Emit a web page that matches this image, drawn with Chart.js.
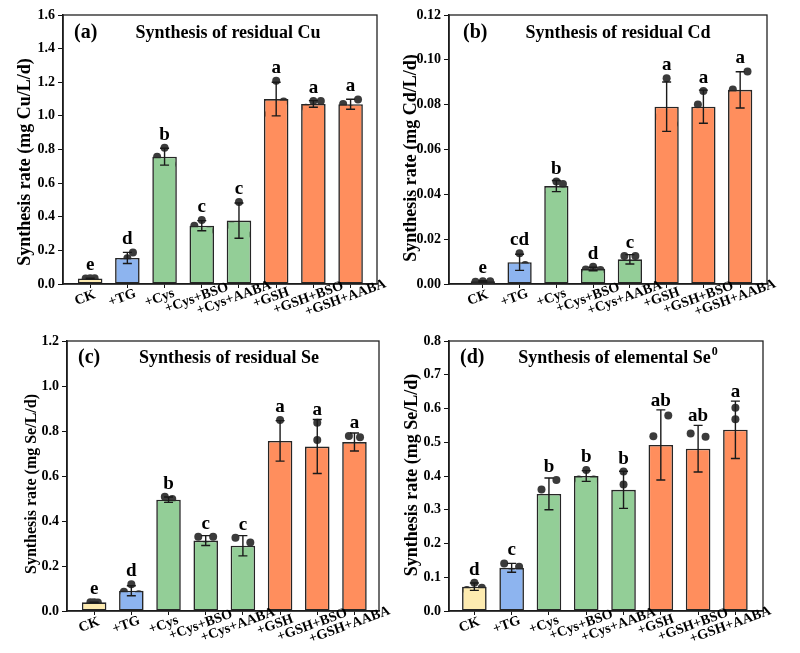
<!DOCTYPE html>
<html>
<head>
<meta charset="utf-8">
<script src="https://cdn.jsdelivr.net/npm/chart.js@4.4.1/dist/chart.umd.min.js"></script>
<style>
  body { margin: 0; background: #fff; }
  #wrap { position: relative; width: 800px; height: 653px; }
  canvas { position: absolute; }
</style>
</head>
<body>
<div id="wrap">
  <canvas id="chartA" width="400" height="326" style="left:0;top:0"></canvas>
  <canvas id="chartB" width="400" height="326" style="left:400px;top:0"></canvas>
  <canvas id="chartC" width="400" height="326" style="left:0;top:327px"></canvas>
  <canvas id="chartD" width="400" height="326" style="left:400px;top:327px"></canvas>
</div>
<script>
const categories = ['CK', '+TG', '+Cys', '+Cys+BSO', '+Cys+AABA', '+GSH', '+GSH+BSO', '+GSH+AABA'];
const barColors = ['#FDEBB0', '#8DB4EF', '#93CE97', '#93CE97', '#93CE97', '#FF8E5D', '#FF8E5D', '#FF8E5D'];

// (a) residual Cu
const cuMean = [0.033, 0.155, 0.757, 0.347, 0.377, 1.100, 1.071, 1.069];
const cuSd = [0.002, 0.033, 0.050, 0.030, 0.105, 0.100, 0.020, 0.030];
const cuReps = [[0.032, 0.034, 0.034], [0.123, 0.153, 0.188], [0.757, 0.811, 0.712], [0.347, 0.381, 0.317],
  [0.347, 0.488, 0.295], [1.011, 1.209, 1.085], [1.049, 1.088, 1.088], [1.071, 1.041, 1.098]];
const cuLetters = ['e', 'd', 'b', 'c', 'c', 'a', 'a', 'a'];

// (b) residual Cd
const cdMean = [0.0012, 0.0097, 0.0437, 0.0067, 0.0110, 0.0791, 0.0791, 0.0866];
const cdSd = [0.0003, 0.0036, 0.0025, 0.0008, 0.0021, 0.0110, 0.0074, 0.0081];
const cdReps = [[0.001, 0.0012, 0.0012], [0.0065, 0.0137, 0.0085], [0.0409, 0.0457, 0.0446], [0.0065, 0.0077, 0.0062],
  [0.0125, 0.0088, 0.0125], [0.0746, 0.0918, 0.0714], [0.0801, 0.0861, 0.0714], [0.0868, 0.0784, 0.0948]];
const cdLetters = ['e', 'cd', 'b', 'd', 'c', 'a', 'a', 'a'];

// (c) residual Se
const seMean = [0.0385, 0.090, 0.495, 0.313, 0.290, 0.756, 0.731, 0.751];
const seSd = [0.001, 0.022, 0.012, 0.022, 0.045, 0.090, 0.120, 0.040];
const seReps = [[0.0385, 0.0385, 0.038], [0.086, 0.119, 0.074], [0.508, 0.479, 0.498], [0.330, 0.290, 0.330],
  [0.326, 0.240, 0.305], [0.849, 0.730, 0.681], [0.837, 0.760, 0.597], [0.778, 0.704, 0.772]];
const seLetters = ['e', 'd', 'b', 'c', 'c', 'a', 'a', 'a'];

// (d) elemental Se0
const se0Mean = [0.072, 0.128, 0.347, 0.400, 0.359, 0.492, 0.481, 0.537];
const se0Sd = [0.011, 0.013, 0.047, 0.016, 0.055, 0.104, 0.069, 0.085];
const se0Reps = [[0.062, 0.084, 0.069], [0.141, 0.115, 0.131], [0.360, 0.294, 0.388], [0.390, 0.418, 0.390],
  [0.413, 0.375, 0.289], [0.518, 0.378, 0.579], [0.526, 0.401, 0.516], [0.602, 0.568, 0.442]];
const se0Letters = ['d', 'c', 'b', 'b', 'b', 'ab', 'ab', 'a'];

const SERIF = '"Liberation Serif", "Times New Roman", serif';

const panels = [
  { id: 'chartA', tag: '(a)', title: 'Synthesis of residual Cu', yTitle: 'Synthesis rate (mg Cu/L/d)',
    mean: cuMean, sd: cuSd, reps: cuReps, letters: cuLetters,
    yMax: 1.6, yStep: 0.2, dec: 1, xMin: -0.73, xMax: 7.71,
    area: { l: 63, r: 377, t: 15, b: 284 }, yt: [25, 162, 18], titleCx: 228, tagX: 74, titleY: 33,
    spread: [0.12, 0.15, 0.2, 0.2, 0.2, 0.2, 0.2, 0.2] },
  { id: 'chartB', tag: '(b)', title: 'Synthesis of residual Cd', yTitle: 'Synthesis rate (mg Cd/L/d)',
    mean: cdMean, sd: cdSd, reps: cdReps, letters: cdLetters,
    yMax: 0.12, yStep: 0.02, dec: 2, xMin: -0.92, xMax: 7.73,
    area: { l: 49, r: 367, t: 15, b: 284 }, yt: [11, 158, 18], titleCx: 218, tagX: 63, titleY: 33,
    spread: [0.2, 0.15, 0.18, 0.2, 0.15, 0.2, 0.15, 0.2] },
  { id: 'chartC', tag: '(c)', title: 'Synthesis of residual Se', yTitle: 'Synthesis rate (mg Se/L/d)',
    mean: seMean, sd: seSd, reps: seReps, letters: seLetters,
    yMax: 1.2, yStep: 0.2, dec: 1, xMin: -0.73, xMax: 7.66,
    area: { l: 67, r: 379, t: 14, b: 284 }, yt: [32, 157, 16], titleCx: 229, tagX: 78, titleY: 31,
    spread: [0.1, 0.2, 0.1, 0.2, 0.2, 0, 0, 0.15] },
  { id: 'chartD', tag: '(d)', title: 'Synthesis of elemental Se', sup: '0', yTitle: 'Synthesis rate (mg Se/L/d)',
    mean: se0Mean, sd: se0Sd, reps: se0Reps, letters: se0Letters,
    yMax: 0.8, yStep: 0.1, dec: 1, xMin: -0.68, xMax: 7.74,
    area: { l: 49, r: 363, t: 14, b: 284 }, yt: [12, 148, 18], titleCx: 218, tagX: 60, titleY: 31,
    spread: [0.2, 0.2, 0.2, 0.2, 0, 0.2, 0.2, 0] },
];

function makeExtras(p) {
  return {
    id: 'extras',
    afterDatasetDraw(chart, args) {
      if (args.index !== 0) return;
      const ctx = chart.ctx, xs = chart.scales.x, ys = chart.scales.y;
      ctx.save();
      ctx.strokeStyle = '#1a1a1a';
      ctx.lineWidth = 1.4;
      p.mean.forEach((m, i) => {
        const x = xs.getPixelForValue(i);
        const y1 = ys.getPixelForValue(m + p.sd[i]);
        const y2 = ys.getPixelForValue(Math.max(0, m - p.sd[i]));
        ctx.beginPath();
        ctx.moveTo(x, y1); ctx.lineTo(x, y2);
        ctx.moveTo(x - 4.5, y1); ctx.lineTo(x + 4.5, y1);
        ctx.moveTo(x - 4.5, y2); ctx.lineTo(x + 4.5, y2);
        ctx.stroke();
      });
      ctx.restore();
    },
    afterDraw(chart) {
      const ctx = chart.ctx, xs = chart.scales.x, ys = chart.scales.y, a = chart.chartArea;
      ctx.save();
      // frame
      ctx.strokeStyle = '#222';
      ctx.lineWidth = 1.3;
      ctx.strokeRect(a.left, a.top, a.right - a.left, a.bottom - a.top);
      ctx.fillStyle = '#000';
      // significance letters
      ctx.font = 'bold 19px ' + SERIF;
      ctx.textAlign = 'center';
      ctx.textBaseline = 'alphabetic';
      p.mean.forEach((m, i) => {
        const x = xs.getPixelForValue(i);
        let top = ys.getPixelForValue(m + p.sd[i]);
        p.reps[i].forEach(v => { top = Math.min(top, ys.getPixelForValue(v) - 4); });
        ctx.fillText(p.letters[i], x, top - 4);
      });
      // x labels, rotated
      ctx.font = 'bold 14px ' + SERIF;
      ctx.textBaseline = 'middle';
      categories.forEach((c, i) => {
        const x = xs.getPixelForValue(i);
        ctx.save();
        ctx.translate(x - 5, a.bottom + 14);
        ctx.rotate(-20 * Math.PI / 180);
        ctx.fillText(c, 0, 0);
        ctx.restore();
      });
      // y title
      ctx.save();
      ctx.font = 'bold ' + p.yt[2] + 'px ' + SERIF;
      ctx.translate(p.yt[0], p.yt[1]);
      ctx.rotate(-Math.PI / 2);
      ctx.fillText(p.yTitle, 0, 0);
      ctx.restore();
      // panel tag and title
      ctx.textAlign = 'left';
      ctx.font = 'bold 20px ' + SERIF;
      ctx.fillText(p.tag, p.tagX, p.titleY);
      ctx.font = 'bold 18px ' + SERIF;
      const w = ctx.measureText(p.title).width;
      let ws = 0;
      if (p.sup) { ctx.font = 'bold 12px ' + SERIF; ws = ctx.measureText(p.sup).width + 1; }
      const x0 = p.titleCx - (w + ws) / 2;
      ctx.font = 'bold 18px ' + SERIF;
      ctx.fillText(p.title, x0, p.titleY);
      if (p.sup) {
        ctx.font = 'bold 12px ' + SERIF;
        ctx.fillText(p.sup, x0 + w + 1, p.titleY - 6);
      }
      ctx.restore();
    }
  };
}

panels.forEach(p => {
  const jit = [-1, 0, 1];
  const dots = [];
  p.reps.forEach((r, i) => r.forEach((v, k) => dots.push({ x: i + jit[k] * p.spread[i], y: v })));
  new Chart(document.getElementById(p.id), {
    type: 'bar',
    data: {
      datasets: [{
        type: 'bar',
        data: p.mean.map((m, i) => ({ x: i, y: m })),
        backgroundColor: barColors,
        borderColor: '#262626',
        borderWidth: 1.6,
        borderSkipped: false,
        barPercentage: 0.66,
        categoryPercentage: 1,
      }, {
        type: 'scatter',
        data: dots,
        pointRadius: 4,
        pointBackgroundColor: '#3b3b3b',
        pointBorderWidth: 0,
      }]
    },
    options: {
      responsive: false,
      animation: false,
      layout: { padding: { left: 0, top: p.area.t, right: 400 - p.area.r, bottom: 0 } },
      plugins: { legend: { display: false }, tooltip: { enabled: false } },
      scales: {
        x: {
          type: 'linear', min: p.xMin, max: p.xMax, offset: false,
          afterFit: s => { s.height = 326 - p.area.b; },
          grid: { display: true, drawOnChartArea: false, drawTicks: true, tickLength: 4, color: '#111', offset: false },
          border: { display: true, color: '#111', width: 1.6 },
          ticks: { stepSize: 1, includeBounds: false, autoSkip: false, maxRotation: 0, callback: () => '' }
        },
        y: {
          min: 0, max: p.yMax,
          afterFit: s => { s.width = p.area.l; },
          grid: { display: true, drawOnChartArea: false, drawTicks: true, tickLength: 5, color: '#111' },
          border: { display: true, color: '#111', width: 1.6 },
          ticks: {
            stepSize: p.yStep, padding: 3, color: '#000',
            font: { family: SERIF, size: 14, weight: 'bold' },
            callback: v => Number(v).toFixed(p.dec)
          }
        }
      }
    },
    plugins: [makeExtras(p)]
  });
});
</script>
</body>
</html>
